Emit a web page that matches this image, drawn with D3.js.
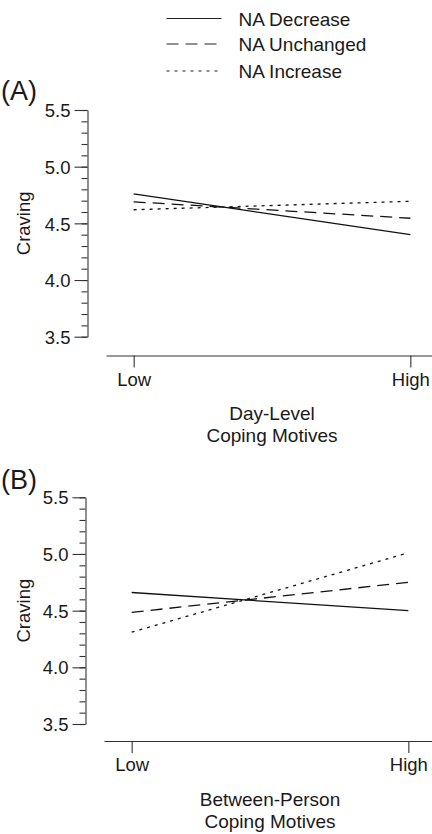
<!DOCTYPE html>
<html>
<head>
<meta charset="utf-8">
<script src="https://cdn.jsdelivr.net/npm/d3@7"></script>
<style>
  body { margin: 0; background: #fff; }
  svg text { font-family: "Liberation Sans", Arial, Helvetica, sans-serif; fill: #1a1a1a; }
</style>
</head>
<body>
<div id="my_dataviz"></div>
<script>
// values
var categories = ["Low", "High"];
var seriesNames = ["NA Decrease", "NA Unchanged", "NA Increase"];
var dayDecrease = [4.76, 4.40];
var dayUnchanged = [4.69, 4.545];
var dayIncrease = [4.62, 4.695];
var personDecrease = [4.66, 4.50];
var personUnchanged = [4.485, 4.75];
var personIncrease = [4.31, 5.01];
var yTicks = [3.5, 4.0, 4.5, 5.0, 5.5];
var yMinorTicks = d3.range(35, 56).map(function (d) { return d / 10; });

var dashes = ["none", "12,7", "3,5"];

var svg = d3
  .select("#my_dataviz")
  .append("svg")
  .attr("width", 432)
  .attr("height", 834);

// legend
var legend = svg.append("g");
seriesNames.forEach(function (name, i) {
  var ly = [18.5, 44, 71][i];
  legend
    .append("line")
    .attr("x1", 166.5)
    .attr("x2", 221.5)
    .attr("y1", ly)
    .attr("y2", ly)
    .attr("stroke", "#222")
    .attr("stroke-width", 1.2)
    .attr("stroke-dasharray", dashes[i]);
  legend
    .append("text")
    .attr("x", 238.5)
    .attr("y", ly + 7)
    .style("font-size", "19px")
    .text(name);
});

function drawPanel(cfg) {
  var g = svg.append("g");

  var x = d3.scaleLinear().domain([-0.1, 1.1]).range([cfg.xStart, cfg.xStart + 332]);
  var y = d3.scaleLinear().domain([3.5, 5.5]).range([cfg.yBottom, cfg.yTop]);

  // minor ticks
  g.append("g")
    .attr("transform", "translate(" + cfg.yAxisX + ",0)")
    .call(d3.axisLeft(y).tickValues(yMinorTicks).tickSize(6).tickFormat(""))
    .call(function (a) { a.select(".domain").remove(); });

  // major ticks
  var yAxis = g.append("g")
    .attr("transform", "translate(" + cfg.yAxisX + ",0)")
    .call(d3.axisLeft(y).tickValues(yTicks).tickSize(13).tickSizeOuter(0).tickPadding(4).tickFormat(d3.format(".1f")));
  yAxis.selectAll("text").style("font-size", "18.5px").attr("dy", "0.36em");

  var xAxis = g.append("g")
    .attr("transform", "translate(0," + cfg.xAxisY + ")")
    .call(d3.axisBottom(x).tickValues([0, 1]).tickSize(12).tickSizeOuter(0).tickPadding(5)
      .tickFormat(function (d) { return categories[d]; }));
  xAxis.selectAll("text").style("font-size", "18.5px");

  g.selectAll(".domain, .tick line").attr("stroke", "#333").attr("stroke-width", 1.1);
  g.selectAll(".tick text").attr("fill", "#1a1a1a");

  // y label
  g.append("text")
    .attr("transform", "translate(" + 30 + "," + (cfg.yTop + cfg.yBottom) / 2 + ") rotate(-90)")
    .attr("text-anchor", "middle")
    .style("font-size", "18.5px")
    .text("Craving");

  // x title
  cfg.title.forEach(function (t, i) {
    g.append("text")
      .attr("x", (x(0) + x(1)) / 2)
      .attr("y", cfg.titleY + i * 22)
      .attr("text-anchor", "middle")
      .style("font-size", "19px")
      .text(t);
  });

  // panel letter
  g.append("text")
    .attr("x", 1)
    .attr("y", cfg.letterY)
    .style("font-size", "27px")
    .text(cfg.letter);

  var line = d3.line()
    .x(function (d, i) { return x(i); })
    .y(function (d) { return y(d); });

  cfg.series.forEach(function (s, i) {
    g.append("path")
      .datum(s)
      .attr("fill", "none")
      .attr("stroke", "#111")
      .attr("stroke-width", 1.3)
      .attr("stroke-dasharray", dashes[i])
      .attr("d", line);
  });
}

drawPanel({
  letter: "(A)", letterY: 100,
  yAxisX: 87.5, yTop: 110, yBottom: 336.7,
  xAxisY: 355.5, xStart: 106,
  title: ["Day-Level", "Coping Motives"], titleY: 420,
  series: [dayDecrease, dayUnchanged, dayIncrease]
});

drawPanel({
  letter: "(B)", letterY: 489,
  yAxisX: 85.5, yTop: 497.3, yBottom: 724,
  xAxisY: 741, xStart: 104,
  title: ["Between-Person", "Coping Motives"], titleY: 806,
  series: [personDecrease, personUnchanged, personIncrease]
});
</script>
</body>
</html>
